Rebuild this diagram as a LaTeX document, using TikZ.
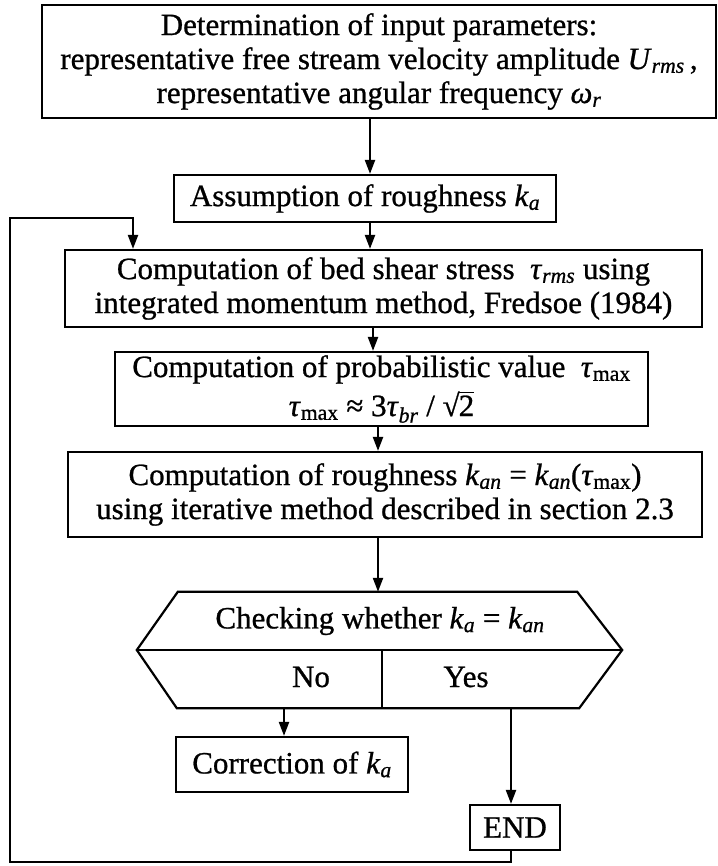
\documentclass[tikz,border=0pt]{standalone}
\usepackage{fontspec}
\setmainfont{Liberation Serif}[FakeBold=0.8]
\usetikzlibrary{arrows.meta}
\newcommand{\mv}[1]{\textit{#1}}
\newcommand{\sbs}[1]{\textsubscript{#1}}
\newcommand{\sqtwo}{√\kern-0.03em\rlap{\rule[0.74em]{0.5em}{0.05em}}2}
\begin{document}
\begin{tikzpicture}[x=1pt,y=-1pt,
  lw/.style={line width=2.2pt},
  box/.style={draw,lw,inner sep=0pt,align=center,font=\fontsize{31}{34}\selectfont},
  lbl/.style={inner sep=0pt,align=center,font=\fontsize{31}{34}\selectfont},
  arr/.style={lw,-{Triangle[length=14pt,width=10pt]}},
  ln/.style={lw}]
\useasboundingbox (0,0) rectangle (717,866);
\fill[white] (0,0) rectangle (717,866);
% boxes
\node[box,minimum width=674pt,minimum height=113pt] (b1) at (379,61.5)
 {Determination of input parameters:\\
  representative free stream velocity amplitude \mv{U}\sbs{\mv{rms}}\,,\\
  representative angular frequency \mv{ω}\sbs{\mv{r}}};
\node[box,minimum width=382pt,minimum height=47pt] (b2) at (365,198.5)
 {Assumption of roughness \mv{k}\sbs{\mv{a}}};
\node[box,minimum width=637pt,minimum height=77pt] (b3) at (383.5,288.5)
 {Computation of bed shear stress \ \mv{τ}\sbs{\mv{rms}} using\\
  integrated momentum method, Fredsoe (1984)};
\node[box,minimum width=533pt,minimum height=74pt] (b4) at (381.5,389)
 {\raisebox{2pt}{Computation of probabilistic value \ \mv{τ}\sbs{max}}\\[1pt]
  \raisebox{-2pt}{\mv{τ}\sbs{max} ≈ 3\mv{τ}\sbs{\mv{br}} / \sqtwo}};
\node[box,minimum width=634pt,minimum height=85pt] (b5) at (385,494.5)
 {Computation of roughness \mv{k}\sbs{\mv{an}} = \mv{k}\sbs{\mv{an}}(\mv{τ}\sbs{max})\\
  using iterative method described in section 2.3};
% decision hexagon
\node[minimum width=485pt,minimum height=116pt,inner sep=0pt] (hex) at (379.5,650) {};
\draw[ln] ([xshift=41pt]hex.north west) -- ([xshift=-45pt]hex.north east)
  -- (hex.east) -- ([xshift=-43pt]hex.south east) -- ([xshift=40pt]hex.south west)
  -- (hex.west) -- cycle;
\draw[ln] (hex.west) -- (hex.east);
\coordinate (dv) at (382,0);
\draw[ln] (dv |- hex.center) -- (dv |- hex.south);
\node[lbl] (chk) at (380,621) {Checking whether \mv{k}\sbs{\mv{a}} = \mv{k}\sbs{\mv{an}}};
\node[lbl] (no) at (311,677) {No};
\node[lbl] (yes) at (466,677) {Yes};
\node[box,minimum width=232pt,minimum height=55pt] (corr) at (292,764.5)
 {Correction of \mv{k}\sbs{\mv{a}}};
\node[box,minimum width=90pt,minimum height=45pt] (end) at (515,827.5) {END};
% connectors
\coordinate (x1) at (370,0);
\coordinate (x2) at (373,0);
\coordinate (x3) at (378,0);
\coordinate (xn) at (284,0);
\coordinate (xy) at (511,0);
\coordinate (xl) at (133,0);
\draw[arr] (x1 |- b1.south) -- (x1 |- b2.north);
\draw[arr] (x1 |- b2.south) -- (x1 |- b3.north);
\draw[arr] (x2 |- b3.south) -- (x2 |- b4.north);
\draw[arr] (x3 |- b4.south) -- (x3 |- b5.north);
\draw[arr] (x3 |- b5.south) -- (x3 |- hex.north);
\draw[arr] (xn |- hex.south) -- (xn |- corr.north);
\draw[arr] (xy |- hex.south) -- (xy |- end.north);
\coordinate (lb) at (10,862);
\coordinate (lt) at (10,218);
\draw[arr] (xy |- end.south) -- (xy |- lb) -- (lb) -- (lt) -- (xl |- lt) -- (xl |- b3.north);
\end{tikzpicture}
\end{document}
